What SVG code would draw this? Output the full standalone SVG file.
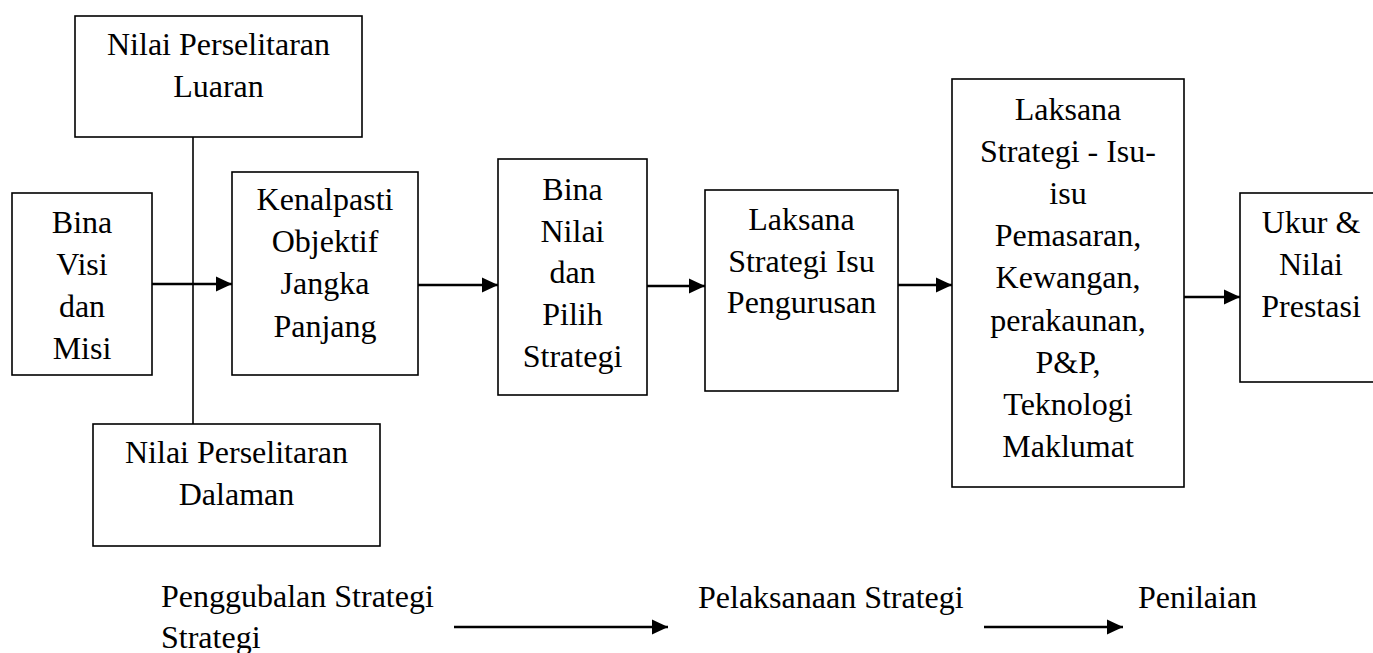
<svg xmlns="http://www.w3.org/2000/svg" width="1373" height="653" viewBox="0 0 1373 653">
<style>
.box{fill:#fff;stroke:#000;stroke-width:1.6}
.t{font-family:"Liberation Serif","Times New Roman",serif;font-size:32px;fill:#000;text-anchor:middle}
.l{font-family:"Liberation Serif","Times New Roman",serif;font-size:32px;fill:#000}
.ln{stroke:#000;stroke-width:1.6;fill:none}
.ar{stroke:#000;stroke-width:2.5;fill:none;marker-end:url(#ah)}
</style>
<defs>
<marker id="ah" markerUnits="userSpaceOnUse" markerWidth="16" markerHeight="16" refX="16" refY="8" orient="auto">
<path d="M0,0.5 L16,8 L0,15.5 Z" fill="#000"/>
</marker>
</defs>
<rect width="1373" height="653" fill="#fff"/>
<g id="connectors">
<line class="ln" x1="193" y1="137" x2="193" y2="424"/>
<line class="ar" x1="152" y1="284" x2="232" y2="284"/>
<line class="ar" x1="418" y1="285" x2="498" y2="285"/>
<line class="ar" x1="647" y1="286" x2="705" y2="286"/>
<line class="ar" x1="898" y1="285" x2="952" y2="285"/>
<line class="ar" x1="1184" y1="297" x2="1240" y2="297"/>
<line class="ar" x1="454" y1="627" x2="668" y2="627"/>
<line class="ar" x1="984" y1="627" x2="1123" y2="627"/>
</g>
<g id="luaran">
<rect class="box" x="75" y="16" width="287" height="121"/>
<text class="t" x="218.5" y="55">Nilai Perselitaran</text>
<text class="t" x="218.5" y="97">Luaran</text>
</g>
<g id="visi">
<rect class="box" x="12" y="193" width="140" height="182"/>
<text class="t" x="82" y="233">Bina</text>
<text class="t" x="82" y="275">Visi</text>
<text class="t" x="82" y="317">dan</text>
<text class="t" x="82" y="359">Misi</text>
</g>
<g id="objektif">
<rect class="box" x="232" y="172" width="186" height="203"/>
<text class="t" x="325" y="210">Kenalpasti</text>
<text class="t" x="325" y="252">Objektif</text>
<text class="t" x="325" y="294">Jangka</text>
<text class="t" x="325" y="337">Panjang</text>
</g>
<g id="dalaman">
<rect class="box" x="93" y="424" width="287" height="122"/>
<text class="t" x="236.5" y="463">Nilai Perselitaran</text>
<text class="t" x="236.5" y="505">Dalaman</text>
</g>
<g id="pilih">
<rect class="box" x="498" y="159" width="149" height="236"/>
<text class="t" x="572.5" y="200">Bina</text>
<text class="t" x="572.5" y="242">Nilai</text>
<text class="t" x="572.5" y="283">dan</text>
<text class="t" x="572.5" y="325">Pilih</text>
<text class="t" x="572.5" y="367">Strategi</text>
</g>
<g id="pengurusan">
<rect class="box" x="705" y="190" width="193" height="201"/>
<text class="t" x="801.5" y="230">Laksana</text>
<text class="t" x="801.5" y="272">Strategi Isu</text>
<text class="t" x="801.5" y="313">Pengurusan</text>
</g>
<g id="isu">
<rect class="box" x="952" y="79" width="232" height="408"/>
<text class="t" x="1068" y="120">Laksana</text>
<text class="t" x="1068" y="162">Strategi - Isu-</text>
<text class="t" x="1068" y="204">isu</text>
<text class="t" x="1068" y="246">Pemasaran,</text>
<text class="t" x="1068" y="288">Kewangan,</text>
<text class="t" x="1068" y="331">perakaunan,</text>
<text class="t" x="1068" y="373">P&amp;P,</text>
<text class="t" x="1068" y="415">Teknologi</text>
<text class="t" x="1068" y="457">Maklumat</text>
</g>
<g id="prestasi">
<rect class="box" x="1240" y="193" width="142" height="189"/>
<text class="t" x="1311" y="233">Ukur &amp;</text>
<text class="t" x="1311" y="275">Nilai</text>
<text class="t" x="1311" y="317">Prestasi</text>
</g>
<g id="labels">
<text class="l" x="161" y="607">Penggubalan Strategi</text>
<text class="l" x="161" y="648">Strategi</text>
<text class="l" x="698" y="608">Pelaksanaan Strategi</text>
<text class="l" x="1138" y="608">Penilaian</text>
</g>
</svg>
